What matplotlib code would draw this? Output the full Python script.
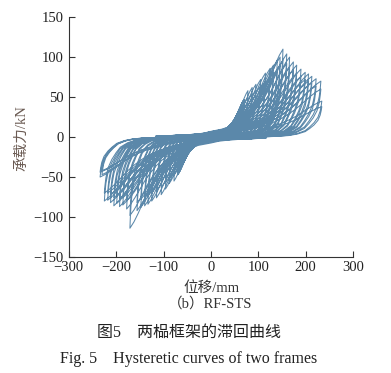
import numpy as np
import matplotlib
matplotlib.use("Agg")
import matplotlib.pyplot as plt

plt.rcParams['font.family'] = ['Liberation Serif', 'Noto Sans CJK SC', 'DejaVu Sans']
plt.rcParams['axes.unicode_minus'] = True

#peak points of each cycle (mm, kN)
small_disp = [6, 10, 14, 18, 22, 26, 30, 34, 38, 42, 46, 50, 54, 58, 62, 66, 70]
small_force = [2, 3, 4, 5, 6, 8, 10, 12, 14, 16, 18, 21, 25, 29, 34, 40, 47]

pos_disp = [78, 87, 95, 105, 115, 125, 132, 140, 146, 152, 160, 166, 174, 181, 190, 199, 206, 213, 222, 232, 234]
pos_force = [58, 62, 66, 72, 80, 86, 90, 96, 100, 110, 104, 100, 94, 90, 85, 81, 79, 76, 73, 70, 45]
pos_force_2 = [50, 54, 58, 64, 70, 76, 80, 85, 90, 96, 92, 88, 84, 80, 76, 72, 70, 68, 64, 60, 38]
neg_disp = [-78, -88, -96, -105, -115, -125, -133, -140, -148, -156, -171, -178, -186, -193, -199, -205, -212, -218, -225, -230, -234]
neg_force = [-55, -58, -65, -72, -76, -80, -84, -86, -88, -92, -114, -90, -85, -87, -83, -86, -82, -79, -80, -47, -50]
neg_force_2 = [-48, -52, -57, -63, -67, -70, -74, -76, -78, -82, -98, -80, -76, -77, -74, -76, -72, -70, -70, -42, -44]

#branch shape, as fractions of the peak of the half cycle
load_x = [-0.5, -0.35, -0.2, -0.1, 0.0, 0.15, 0.3, 0.4, 0.5, 0.58, 0.65, 0.72, 0.78, 0.84, 0.9, 0.95, 1.0]
load_y = [0.02, 0.025, 0.035, 0.045, 0.065, 0.09, 0.13, 0.18, 0.25, 0.32, 0.4, 0.5, 0.6, 0.72, 0.84, 0.93, 1.0]
unload_x = [1.0, 0.995, 0.985, 0.965, 0.93, 0.89, 0.85, 0.78, 0.7, 0.6, 0.5]
unload_y = [1.0, 0.88, 0.72, 0.55, 0.4, 0.28, 0.18, 0.1, 0.05, 0.025, 0.01]

line_color = '#5b88aa'


def half_cycle(d, f):
	xs = [d*x for x in load_x] + [d*x for x in unload_x[1:]]
	ys = [f*y for y in load_y] + [f*y for y in unload_y[1:]]
	return xs, ys


def build_path():
	px, py = [0.0], [0.0]
	for d, f in zip(small_disp, small_force):
		for rep in range(3):
			for dd, ff in ((d, f), (-d, -f)):
				xs, ys = half_cycle(dd, ff)
				px.extend(xs)
				py.extend(ys)
	for i in range(len(pos_disp)):
		cycles = ((pos_disp[i], pos_force[i]), (neg_disp[i], neg_force[i]),
			(pos_disp[i], pos_force_2[i]), (neg_disp[i], neg_force_2[i]))
		for dd, ff in cycles:
			xs, ys = half_cycle(dd, ff)
			px.extend(xs)
			py.extend(ys)
	return px, py


fig = plt.figure(figsize=(3.91, 3.73), dpi=100)
ax = fig.add_axes([0.176, 0.311, 0.727, 0.643])

px, py = build_path()
ax.plot(px, py, color=line_color, lw=0.75)

ax.set_xlim(-300, 300)
ax.set_ylim(-150, 150)
ax.set_xticks([-300, -200, -100, 0, 100, 200, 300])
ax.set_yticks([-150, -100, -50, 0, 50, 100, 150])
ax.spines['top'].set_visible(False)
ax.spines['right'].set_visible(False)
for s in ('left', 'bottom'):
	ax.spines[s].set_color('#333333')
	ax.spines[s].set_linewidth(0.8)
ax.tick_params(direction='in', length=4, width=0.8, colors='#333333', labelsize=10.5)
ax.tick_params(axis='x', labelcolor='#222222', pad=3)
ax.tick_params(axis='y', labelcolor='#222222', pad=4)

fig.text(0.056, 0.63, '承载力/kN', rotation=90, ha='center', va='center', fontsize=10.5, color='#6a5a52')
fig.text(0.54, 0.228, '位移/mm', ha='center', va='center', fontsize=10.5, color='#333333')
fig.text(0.537, 0.186, '（b）RF-STS', ha='center', va='center', fontsize=10.5, color='#333333')
fig.text(0.483, 0.107, '图5　两榀框架的滞回曲线', ha='center', va='center', fontsize=11.5, color='#222222')
fig.text(0.483, 0.037, 'Fig. 5　Hysteretic curves of two frames', ha='center', va='center', fontsize=11.5, color='#222222')

fig.savefig('out.png', dpi=100)
